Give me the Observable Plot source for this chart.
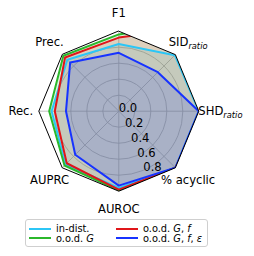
<!DOCTYPE html>
<html>
<head>
<meta charset="utf-8">
<script src="https://cdn.jsdelivr.net/npm/d3@7"></script>
<script src="https://cdn.jsdelivr.net/npm/@observablehq/plot@0.6"></script>
<style>
  html, body { margin: 0; padding: 0; background: #fff; }
  #wrap { position: relative; width: 254px; height: 256px; font-family: "DejaVu Sans", sans-serif; }
  #wrap svg { position: absolute; left: 0; top: 0; }
  #legend { position: absolute; left: 25px; top: 219px; width: 183px; height: 28px; box-sizing: border-box;
            border: 1px solid #cfcfcf; border-radius: 3px; font-size: 9.8px; color: #000; background: #fff; }
  .item { position: absolute; display: flex; align-items: center; height: 10px; white-space: nowrap; }
  .swatch { width: 22px; height: 0; border-top: 2px solid; margin-right: 5px; }
</style>
</head>
<body>
<div id="wrap"></div>
<script>
// ---- data ----
const axes = ["F1", "SID_ratio", "SHD_ratio", "% acyclic", "AUROC", "AUPRC", "Rec.", "Prec."];
const series = ["in-dist.", "o.o.d. G", "o.o.d. G, f", "o.o.d. G, f, ε"];
const seriesHtml = ["in-dist.", "o.o.d. <i>G</i>", "o.o.d. <i>G</i>, <i>f</i>", "o.o.d. <i>G</i>, <i>f</i>, <i>ε</i>"];
const colors = ["#2cc6f6", "#2bb82b", "#e0161a", "#1733ff"];
const inDist = [0.84, 0.99, 1.00, 1.00, 0.96, 0.94, 0.84, 0.91];
const oodG   = [0.96, 1.60, 1.06, 1.00, 0.99, 0.96, 0.87, 0.98];
const oodGf  = [0.92, 1.50, 1.05, 1.00, 0.98, 0.92, 0.80, 0.95];
const oodGfe = [0.73, 0.69, 1.00, 1.00, 0.93, 0.77, 0.66, 0.86];
const rTicks = [0.0, 0.2, 0.4, 0.6, 0.8];
const gridRings = [0.2, 0.4, 0.6, 0.8];

// ---- layout ----
const W = 254, H = 218, R = 80, cx = 118.3, cy = 110.7;
const ang = i => (i * 2 * Math.PI) / axes.length;          // clockwise from top
const labelR = 1.225;
const tickAngle = Math.PI * 157.5 / 180;

const values = [inDist, oodG, oodGf, oodGfe];
const rows = series.flatMap((s, si) => values[si].map((v, i) => ({
  series: s, axis: axes[i], v, x: v * Math.sin(ang(i)), y: v * Math.cos(ang(i))
})));
const frame = axes.map((a, i) => ({x: Math.sin(ang(i)), y: Math.cos(ang(i))}));
const labels = axes.map((a, i) => {
  const lr = a === "SHD_ratio" ? 1.27 : labelR;
  return {text: a, x: lr * Math.sin(ang(i)), y: lr * Math.cos(ang(i))};
});
const ticks = rTicks.map(t => ({text: t.toFixed(1), x: t * Math.sin(tickAngle), y: t * Math.cos(tickAngle)}));

const plot = Plot.plot({
  width: W, height: H, margin: 0,
  style: {fontFamily: "DejaVu Sans, sans-serif", fontSize: "11.6px", background: "transparent"},
  x: {domain: [-cx / R, (W - cx) / R], range: [0, W], axis: null},
  y: {domain: [-(H - cy) / R, cy / R], range: [H, 0], axis: null},
  r: {type: "linear", domain: [0, 1], range: [0, R]},
  color: {domain: series, range: colors},
  marks: [
    Plot.dot(gridRings, {x: 0, y: 0, r: d => d, stroke: "#b4b4b4", strokeWidth: 0.8, fill: "none"}),
    Plot.link(frame, {x1: 0, y1: 0, x2: "x", y2: "y", stroke: "#b4b4b4", strokeWidth: 0.8}),
    Plot.line(rows, {x: "x", y: "y", z: "series", fill: "series", fillOpacity: 0.16, stroke: null,
                     curve: "linear-closed"}),
    Plot.line(rows, {x: "x", y: "y", z: "series", stroke: "series", strokeWidth: 2,
                     curve: "linear-closed"}),
    Plot.line(frame, {x: "x", y: "y", stroke: "#000", strokeWidth: 1, curve: "linear-closed"}),
    Plot.text(ticks, {x: "x", y: "y", text: "text", textAnchor: "start", lineAnchor: "bottom", dy: 1, fontSize: 11.6}),
    Plot.text(labels, {x: "x", y: "y", text: "text", textAnchor: "middle", lineAnchor: "middle", fontSize: 11.6})
  ]
});

// clip data polygons to the octagon frame
const sx = plot.scale("x"), sy = plot.scale("y");
const octPath = "M" + frame.map(p => `${sx.apply(p.x)},${sy.apply(p.y)}`).join("L") + "Z";
const svg = d3.select(plot);
svg.insert("defs", ":first-child").append("clipPath").attr("id", "octclip")
  .append("path").attr("d", octPath);
const lineGroups = plot.querySelectorAll('g[aria-label="line"]');
// first = fills, second = series strokes
[lineGroups[0], lineGroups[1]].forEach(g => g && g.setAttribute("clip-path", "url(#octclip)"));

// subscripts on axis labels
svg.selectAll("text").each(function () {
  const t = this.textContent;
  if (t.includes("_ratio")) {
    const [main, sub] = t.split("_");
    const el = d3.select(this);
    el.selectAll("*").remove();
    el.text(null);
    el.append("tspan").text(main);
    el.append("tspan").attr("font-style", "italic").attr("font-size", "8.3px").attr("dy", "3").text(sub);
  }
});

const wrap = document.getElementById("wrap");
wrap.appendChild(plot);

// legend
const legend = document.createElement("div");
legend.id = "legend";
const pos = [[3, 3.5], [3, 13], [90, 3.5], [90, 13]];
series.forEach((s, i) => {
  const it = document.createElement("div");
  it.className = "item";
  it.style.left = pos[i][0] + "px";
  it.style.top = pos[i][1] + "px";
  it.innerHTML = `<span class="swatch" style="border-color:${colors[i]}"></span><span>${seriesHtml[i]}</span>`;
  legend.appendChild(it);
});
wrap.appendChild(legend);
</script>
</body>
</html>
